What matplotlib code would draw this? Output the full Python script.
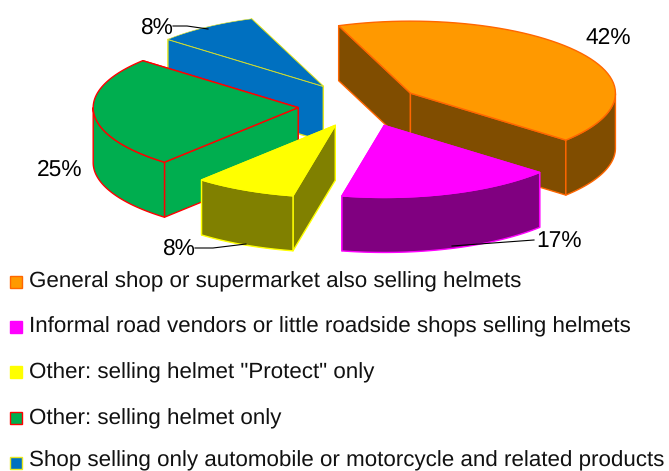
import numpy as np
import matplotlib
matplotlib.use("Agg")
import matplotlib.pyplot as plt
from matplotlib.patches import Polygon, Rectangle

plt.rcParams['font.family'] = ['Liberation Sans', 'DejaVu Sans']
plt.rcParams['text.hinting'] = 'no_hinting'
plt.rcParams['text.hinting_factor'] = 8

# Survey shares, in percent
categories = [
    'General shop or supermarket also selling helmets',
    'Informal road vendors or little roadside shops selling helmets',
    'Other: selling helmet "Protect" only',
    'Other: selling helmet only',
    'Shop selling only automobile or motorcycle and related products',
]
shares = [42, 17, 8, 25, 8]
value_labels = ['42%', '17%', '8%', '25%', '8%']

top_colors = ['#FF9900', '#FF00FF', '#FFFF00', '#00AE4F', '#0070C0']
side_colors = ['#804D00', '#800080', '#808000', '#00AE4F', '#0070C0']
edge_colors = ['#FF6600', '#FF00FF', '#FFFF00', '#FF0000', '#E8E820']

# Pie layout in pixel units
CENTER = (358.0, 106.0)
RX, RY = 205.0, 72.0
DEPTH = 55.0
EXPLODE = 0.30
START = 110.5
NUDGE = [(2, -0.5), (6.5, -1), (4.5, 0), (1.5, 0), (0.5, -2)]
DRAW_ORDER = [4, 3, 2, 0, 1]

label_pos = [(608, 38), (559, 242), (178, 249), (60, 170), (156, 28)]
leaders = {
    1: [(534, 240), (452, 246)],
    2: [(195, 248), (213, 248), (246, 244)],
    4: [(173, 26), (187, 26), (208, 29)],
}

fig = plt.figure(figsize=(6.69, 4.71), dpi=100)
ax = fig.add_axes([0, 0, 1, 1])
ax.set_xlim(0, 669)
ax.set_ylim(471, 0)
ax.axis('off')


def rim(apex, t0, t1, n=60):
    t = np.radians(np.linspace(t0, t1, n))
    return np.column_stack([apex[0] + RX * np.cos(t), apex[1] - RY * np.sin(t)])


def drop(points):
    return np.asarray(points) + np.array([0.0, DEPTH])


def draw_slice(i, t0, t1):
    mid = np.radians((t0 + t1) / 2)
    apex = (CENTER[0] + EXPLODE * RX * np.cos(mid) + NUDGE[i][0],
            CENTER[1] - EXPLODE * RY * np.sin(mid) + NUDGE[i][1])
    arc = rim(apex, t0, t1)
    faces = []
    # radial walls
    for end in (arc[0], arc[-1]):
        quad = np.array([apex, end])
        faces.append(np.vstack([quad, drop(quad)[::-1]]))
    # front part of the curved wall only
    t = np.linspace(t0, t1, 200)
    t_mod = (t + 180) % 360 - 180
    front = t[t_mod < 0]
    if len(front) > 1:
        fr = rim(apex, front[0], front[-1])
        faces.append(np.vstack([fr, drop(fr)[::-1]]))
    for poly in sorted(faces, key=lambda p: p[:, 1].mean()):
        ax.add_patch(Polygon(poly, closed=True, facecolor=side_colors[i],
                             edgecolor=edge_colors[i], lw=1.0, joinstyle='round'))
    ax.add_patch(Polygon(np.vstack([[apex], arc]), closed=True, facecolor=top_colors[i],
                         edgecolor=edge_colors[i], lw=1.0 if i != 4 else 0.4,
                         joinstyle='round'))


angles = START - np.concatenate([[0], np.cumsum(shares)]) * 3.6
for i in DRAW_ORDER:
    draw_slice(i, angles[i], angles[i + 1])

for i, pts in leaders.items():
    xs, ys = zip(*pts)
    ax.plot(xs, ys, color='black', lw=0.8)

for text, (x, y) in zip(value_labels, label_pos):
    ax.text(x, y, text, ha='center', va='center', fontsize=16.4, color='black')

# Legend rows
row_y = [281.5, 326.5, 372, 418, 463]
text_y = [282, 327, 372.5, 418.5, 460.5]
for i, name in enumerate(categories):
    y = row_y[i]
    ax.add_patch(Rectangle((9.5, y - 6), 12, 12, facecolor=top_colors[i],
                           edgecolor=edge_colors[i], lw=1.0))
    ax.text(29, text_y[i], name, ha='left', va='center', fontsize=16.1, color='#111111')

fig.savefig('out.png', dpi=100)
